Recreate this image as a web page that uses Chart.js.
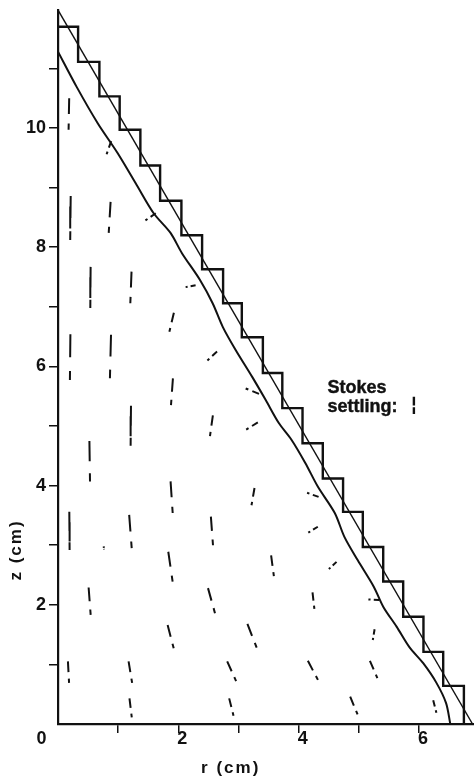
<!DOCTYPE html>
<html>
<head>
<meta charset="utf-8">
<script src="https://cdn.jsdelivr.net/npm/chart.js@4/dist/chart.umd.min.js"></script>
<style>
  html, body { margin: 0; padding: 0; background: #fff; }
  canvas { display: block; }
</style>
</head>
<body>
<canvas id="c" width="474" height="783"></canvas>
<script>
// All lengths in cm: r is the radial coordinate, z the height.

// Sloping wall of the vessel (straight line from the apex to the floor)
const wallR = [0, 6.89];
const wallZ = [11.98, 0];

// Stepped wall: corner radius of each step and the height of its tread
const stepR = [0.334, 0.688, 1.025, 1.369, 1.697, 2.051, 2.395, 2.744, 3.055, 3.405,
               3.728, 4.064, 4.401, 4.738, 5.066, 5.405, 5.737, 6.074, 6.402, 6.746];
const stepZ = [11.70, 11.11, 10.53, 9.97, 9.37, 8.78, 8.20, 7.63, 7.06, 6.49,
               5.89, 5.30, 4.71, 4.12, 3.56, 2.97, 2.39, 1.80, 1.21, 0.64];

// Inner boundary line
const edgeR = [0, 0.31, 0.66, 0.99, 1.31, 1.59, 1.87, 2.06, 2.36, 2.57, 2.74, 2.95,
               3.23, 3.45, 3.67, 3.88, 4.11, 4.32, 4.60, 4.76, 4.98, 5.25, 5.41, 5.63,
               5.84, 6.07, 6.29, 6.45, 6.52];
const edgeZ = [11.28, 10.69, 10.08, 9.58, 9.04, 8.57, 8.24, 7.90, 7.45, 7.06, 6.66, 6.28,
               5.82, 5.44, 5.05, 4.77, 4.38, 3.98, 3.54, 3.14, 2.75, 2.30, 1.96, 1.63,
               1.29, 1.02, 0.69, 0.35, 0.00];

// Particle velocity vectors: tail (r0, z0) and head (r1, z1)
const vecR0 = [0.186, 0.884, 0.211, 0.874, 1.625, 0.542, 1.222, 2.287, 1.926, 2.643,
               0.206, 0.881, 1.910, 1.213, 2.574, 0.522, 1.871, 0.188, 1.183, 0.760,
               2.541, 1.833, 0.509, 2.493, 1.822, 0.165, 1.173, 2.812, 1.188, 2.845,
               3.341, 3.321, 3.266, 4.331, 4.318, 3.542, 4.629, 4.230, 5.337, 3.148,
               5.262, 4.153, 5.184, 4.856, 6.236];
const vecZ0 = [10.50, 9.78, 8.86, 8.76, 8.57, 7.67, 7.59, 7.36, 6.90, 6.25,
               6.54, 6.53, 5.80, 5.34, 5.18, 4.75, 4.07, 3.56, 3.51, 2.98,
               3.48, 2.89, 2.29, 2.28, 1.66, 1.05, 1.05, 1.05, 0.43, 0.43,
               5.54, 5.06, 3.96, 3.81, 3.31, 2.83, 2.72, 2.21, 2.08, 1.68,
               1.59, 1.06, 1.06, 0.46, 0.40];
const vecR1 = [0.176, 0.808, 0.203, 0.843, 1.453, 0.537, 1.202, 2.121, 1.851, 2.483,
               0.198, 0.863, 1.878, 1.207, 2.526, 0.532, 1.906, 0.193, 1.225, 0.765,
               2.576, 1.905, 0.543, 2.609, 1.923, 0.184, 1.232, 2.960, 1.226, 2.917,
               3.119, 3.128, 3.216, 4.140, 4.160, 3.588, 4.502, 4.261, 5.159, 3.302,
               5.232, 4.320, 5.308, 4.979, 6.289];
const vecZ1 = [9.97, 9.56, 8.12, 8.24, 8.45, 6.98, 7.06, 7.33, 6.58, 6.10,
               5.77, 5.80, 5.35, 4.67, 4.83, 4.07, 3.54, 2.92, 2.95, 2.93,
               3.00, 2.39, 1.83, 1.86, 1.27, 0.69, 0.69, 0.72, 0.11, 0.14,
               5.63, 4.94, 3.67, 3.88, 3.21, 2.48, 2.60, 1.93, 2.09, 1.28,
               1.41, 0.74, 0.77, 0.16, 0.19];

// Reference vector for Stokes settling
const stokesR = [5.915, 5.915];
const stokesZ = [5.49, 5.20];

// Axis ticks
const xTickValues = [1, 2, 3, 4, 5, 6];
const xTickLabels = ['', '2', '', '4', '', '6'];
const yTickValues = [1, 2, 3, 4, 5, 6, 7, 8, 9, 10, 11];
const yTickLabels = ['', '2', '', '4', '', '6', '', '8', '', '10', ''];

const INK = '#111';
const FONT = '"Liberation Sans", Arial, Helvetica, sans-serif';

function toPoints(rs, zs) {
  return rs.map((r, i) => ({ x: r, y: zs[i] }));
}

// Staircase path: tread across, riser down
function stairPoints() {
  const pts = [{ x: 0, y: stepZ[0] }];
  for (let i = 0; i < stepR.length; i++) {
    pts.push({ x: stepR[i], y: stepZ[i] });
    pts.push({ x: stepR[i], y: i + 1 < stepZ.length ? stepZ[i + 1] : 0 });
  }
  return pts;
}

// Each vector becomes its own segment, separated by gaps
function vectorPoints(r0, z0, r1, z1) {
  const pts = [];
  r0.forEach((r, i) => {
    pts.push({ x: r, y: z0[i] });
    pts.push({ x: r1[i], y: z1[i] });
    pts.push({ x: null, y: null });
  });
  return pts;
}

// Dash, gap, dot along each vector, scaled to its length on screen
function vectorDash(ctx) {
  const L = Math.hypot(ctx.p1.x - ctx.p0.x, ctx.p1.y - ctx.p0.y);
  return [0.5 * L, 0.3 * L, 0.2 * L + 0.5, L + 10];
}

const labelsPlugin = {
  id: 'figureText',
  afterDraw(chart) {
    const { ctx, scales: { x, y } } = chart;
    ctx.save();
    ctx.fillStyle = INK;
    ctx.strokeStyle = INK;
    ctx.lineWidth = 0.4;
    ctx.font = 'bold 18px ' + FONT;
    ctx.textBaseline = 'middle';

    ctx.textAlign = 'left';
    const sx = x.getPixelForValue(4.48);
    ctx.fillText('Stokes', sx, y.getPixelForValue(5.64));
    ctx.strokeText('Stokes', sx, y.getPixelForValue(5.64));
    ctx.fillText('settling:', sx, y.getPixelForValue(5.32));
    ctx.strokeText('settling:', sx, y.getPixelForValue(5.32));

    // shared origin label
    ctx.textAlign = 'center';
    ctx.fillText('0', x.left - 16.5, y.bottom + 15);

    // axis titles
    ctx.font = 'bold 17px ' + FONT;
    if ('letterSpacing' in ctx) ctx.letterSpacing = '2px';
    ctx.fillText('r (cm)', x.getPixelForValue(2.87), y.bottom + 44);
    ctx.translate(16.5, y.getPixelForValue(2.92));
    ctx.rotate(-Math.PI / 2);
    ctx.fillText('z (cm)', 0, 0);
    ctx.restore();
  }
};

new Chart(document.getElementById('c'), {
  type: 'scatter',
  data: {
    datasets: [
      {
        data: toPoints(wallR, wallZ),
        showLine: true, borderColor: INK, borderWidth: 1.4,
        pointRadius: 0
      },
      {
        data: stairPoints(),
        showLine: true, borderColor: INK, borderWidth: 2.4,
        borderJoinStyle: 'miter', pointRadius: 0
      },
      {
        data: toPoints(edgeR, edgeZ),
        showLine: true, borderColor: INK, borderWidth: 2,
        tension: 0.3, pointRadius: 0
      },
      {
        data: vectorPoints(vecR0, vecZ0, vecR1, vecZ1),
        showLine: true, spanGaps: false, borderColor: INK, borderWidth: 2,
        borderCapStyle: 'butt', pointRadius: 0,
        segment: { borderDash: vectorDash }
      },
      {
        data: toPoints(stokesR, stokesZ),
        showLine: true, borderColor: INK, borderWidth: 2.4,
        borderCapStyle: 'butt', pointRadius: 0,
        segment: { borderDash: vectorDash },
        clip: false
      }
    ]
  },
  options: {
    responsive: false,
    animation: false,
    devicePixelRatio: 1,
    layout: { padding: { top: 10, right: 0, bottom: 0, left: 0 } },
    plugins: {
      legend: { display: false },
      tooltip: { enabled: false }
    },
    scales: {
      x: {
        type: 'linear',
        min: 0, max: 6.914,
        afterBuildTicks: s => { s.ticks = xTickValues.map(v => ({ value: v })); },
        afterFit: s => { s.height = 59; s.paddingLeft = 0; s.paddingRight = 0; },
        ticks: {
          callback: (v, i) => xTickLabels[i],
          color: INK, font: { family: FONT, size: 18, weight: 'bold', lineHeight: 0.65 },
          padding: 0, maxRotation: 0, autoSkip: false, labelOffset: 4
        },
        grid: { drawOnChartArea: false, drawTicks: true, tickLength: 9, color: INK, lineWidth: 1.5 },
        border: { display: true, color: INK, width: 2.2 }
      },
      y: {
        type: 'linear',
        min: 0, max: 11.98,
        afterBuildTicks: s => { s.ticks = yTickValues.map(v => ({ value: v })); },
        afterFit: s => { s.width = 58; s.paddingTop = 0; s.paddingBottom = 0; },
        ticks: {
          callback: (v, i) => yTickLabels[i],
          color: INK, font: { family: FONT, size: 18, weight: 'bold' },
          padding: 3, autoSkip: false
        },
        grid: { drawOnChartArea: false, drawTicks: true, tickLength: 9, color: INK, lineWidth: 1.5 },
        border: { display: true, color: INK, width: 2.2 }
      }
    }
  },
  plugins: [labelsPlugin]
});
</script>
</body>
</html>
